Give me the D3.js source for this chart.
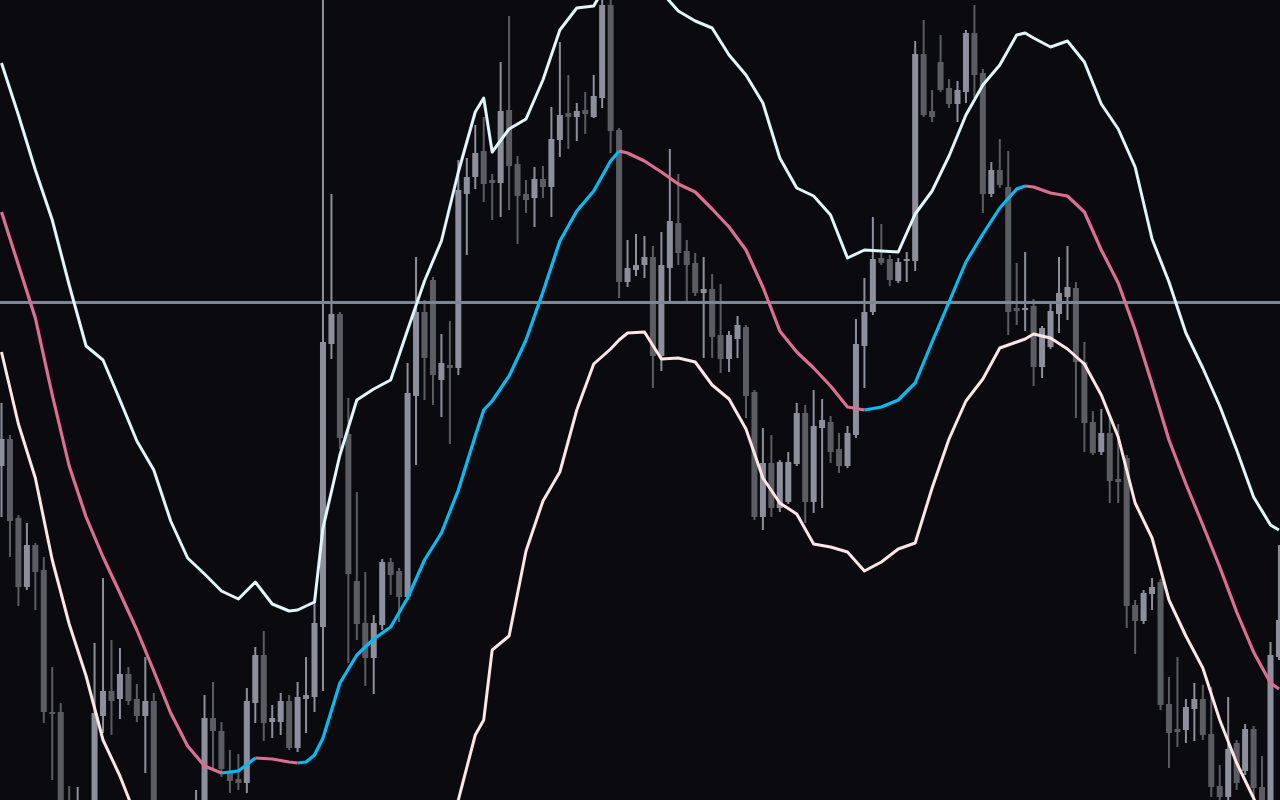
<!DOCTYPE html>
<html><head><meta charset="utf-8">
<script src="https://cdn.jsdelivr.net/npm/d3@7"></script>
<style>html,body{margin:0;padding:0;background:#0a0a0f;overflow:hidden}svg{display:block}</style>
</head><body><svg id="chart" width="1280" height="800"></svg>
<script>
// ---- candle data (price units) ----
const open=[334,361,282,213,255,230,88,88,-5,-25,-15,-10,84,109,101,126,101,84,99,-15,-35,-45,-30,-15,-5,82,69,27,21,17,97,145,78,78,99,52,101,103,173,456,486,366,219,177,142,175,238,229,203,404,488,520,420,435,432,606,623,649,620,617,690,636,606,602,621,613,660,687,683,690,683,702,795,670,518,530,535,543,444,532,577,549,537,507,511,465,441,461,473,408,283,337,292,298,336,387,298,372,378,351,334,365,454,488,542,541,519,540,539,746,689,738,712,696,708,767,727,606,630,613,492,490,494,433,453,486,503,512,438,378,348,367,321,342,195,179,206,218,96,71,70,91,101,66,14,3,57,29,71,13,-5,143];
const high=[397,365,285,277,257,243,133,97,14,13,-5,157,222,160,152,133,116,143,107,-5,-20,-15,-5,10,105,118,78,50,46,112,153,169,95,107,105,118,143,197,810,606,488,402,308,228,185,241,242,232,437,543,500,523,466,479,640,642,675,683,626,738,784,644,620,633,634,693,758,725,697,708,725,810,810,672,560,566,564,554,568,651,626,560,547,543,526,516,469,484,475,410,372,365,340,348,397,395,410,401,384,367,374,481,522,583,576,545,542,548,759,780,710,765,721,719,770,795,731,638,661,649,537,548,501,474,496,543,554,518,458,389,391,382,376,345,200,210,222,221,123,143,101,117,115,113,35,103,60,76,74,44,158,255];
const low=[283,243,194,210,190,77,20,-30,-45,-40,-50,-20,67,65,81,95,78,27,-30,-60,-70,-60,-45,-30,-15,30,23,7,10,7,77,59,62,65,50,48,67,88,109,441,351,137,160,114,106,170,205,178,200,335,400,395,383,356,425,545,611,598,580,583,590,556,587,573,602,583,643,651,659,666,682,692,647,502,513,524,522,412,429,499,535,499,504,442,442,427,428,442,382,280,270,283,288,296,334,277,287,292,337,327,332,362,412,485,535,514,517,518,529,683,678,708,692,678,697,702,587,603,612,465,475,469,414,422,451,467,480,382,348,345,345,297,297,172,146,176,190,90,32,53,57,59,60,3,-5,0,10,25,-5,-15,-15,140];
const close=[361,279,213,255,228,88,86,-15,-30,0,-40,87,109,99,126,99,84,99,-15,-40,-50,-30,-15,0,82,69,31,19,17,99,145,77,82,99,52,103,105,177,458,486,362,226,176,142,177,238,225,203,407,488,442,425,437,432,610,623,647,616,617,689,634,604,600,621,613,661,685,683,689,686,704,795,669,518,532,535,543,444,535,579,547,535,507,511,463,441,465,475,404,283,337,292,338,338,387,298,374,380,348,334,367,456,488,541,537,520,538,541,746,685,683,710,696,710,767,725,606,630,615,488,489,492,433,472,489,507,513,438,377,347,367,319,318,194,179,207,213,95,67,68,93,101,65,13,3,51,17,71,12,0,145,180];

// ---- band data (sampled at bar indices) ----
const bandIdx=[0,2,4,6,8,10,12,14,16,18,20,22,24,26,28,30,32,34,35,36,37,38,40,42,44,46,48,50,52,54,56,57,58,60,62,64,66,68,70,72,73,74,76,78,80,82,84,86,88,90,92,94,96,98,100,102,104,106,108,110,112,114,116,118,120,121,122,124,126,128,130,132,134,136,138,140,142,144,146,148,150,151];
const upperBand=[737,685,630,580,515,454,440,400,359,330,279,242,226,209,201,218,196,189,190,194,198,272,345,400,411,420,470,519,559,628,688,702,648,671,681,720,770,792,794,823,830,829,808,808,789,779,772,745,725,697,642,612,604,585,542,550,549,548,586,609,644,685,715,735,765,767,762,753,759,738,696,671,633,561,518,467,432,394,350,303,275,270];
const middleBand=[588,535,482,405,334,283,243,207,170,129,87,54,34,27,29,42,41,38,37,38,45,62,117,145,161,173,202,240,267,310,364,390,399,424,460,508,559,589,609,639,649,647,639,628,616,608,591,573,550,513,469,448,432,414,393,390,393,400,417,458,498,538,566,592,611,614,613,607,604,588,550,517,470,416,360,316,275,233,188,148,117,111];
const lowerBand=[448,376,322,240,176,124,60,24,-19,-72,-105,-134,-158,-155,-141,-134,-114,-113,-116,-118,-108,-130,-111,-110,-89,-74,-66,-39,-25,0,65,80,150,164,249,299,328,390,436,451,460,467,468,441,442,438,415,401,371,322,297,286,256,253,248,229,238,251,257,312,361,399,421,452,458,461,466,462,451,436,405,363,297,262,200,164,132,80,37,2,-40,-48];
const priceLine=497.5;

// ---- styles ----
const W=1280,H=800;
const C={bg:"#0a0a0f",up:"#8e8f9c",down:"#5c5d63",upper:"#e0f6fa",lower:"#ffe6e4",rise:"#00bcf5",fall:"#dc6e90",line:"#7c8695"};

const svg=d3.select("#chart");
svg.append("rect").attr("width",W).attr("height",H).attr("fill",C.bg);

const bars=d3.range(open.length);
const x=d3.scaleLinear().domain([0,bars.length-1]).range([1.5,1.5+(bars.length-1)*8.46]);
const y=d3.scaleLinear().domain([0,800]).range([H,0]);
const bodyW=6, wickW=2;

const g=svg.append("g");
g.selectAll("rect.wick").data(bars).join("rect").attr("class","wick")
  .attr("x",i=>x(i)-wickW/2).attr("width",wickW)
  .attr("y",i=>y(high[i])).attr("height",i=>Math.max(1,y(low[i])-y(high[i])))
  .attr("fill",i=>close[i]>=open[i]?C.up:C.down);
g.selectAll("rect.body").data(bars).join("rect").attr("class","body")
  .attr("x",i=>x(i)-bodyW/2).attr("width",bodyW)
  .attr("y",i=>y(Math.max(open[i],close[i])))
  .attr("height",i=>Math.max(2,Math.abs(y(open[i])-y(close[i]))))
  .attr("fill",i=>close[i]>=open[i]?C.up:C.down);

// horizontal price line
svg.append("line").attr("x1",0).attr("x2",W).attr("y1",y(priceLine)).attr("y2",y(priceLine))
  .attr("stroke",C.line).attr("stroke-width",3);

const line=d3.line().x(d=>x(d[0])).y(d=>y(d[1]));
const pts=arr=>bandIdx.map((k,j)=>[k,arr[j]]);
svg.append("path").attr("d",line(pts(upperBand))).attr("fill","none").attr("stroke",C.upper).attr("stroke-width",3).attr("stroke-linejoin","round");
svg.append("path").attr("d",line(pts(lowerBand))).attr("fill","none").attr("stroke",C.lower).attr("stroke-width",3).attr("stroke-linejoin","round");

// middle band coloured by direction
const mp=pts(middleBand);
const runs=[];
for(let j=0;j<mp.length-1;j++){
  const col=mp[j+1][1]>mp[j][1]?C.rise:C.fall;
  if(runs.length&&runs[runs.length-1].col===col){runs[runs.length-1].p.push(mp[j+1]);}
  else runs.push({col,p:[mp[j],mp[j+1]]});
}
svg.selectAll("path.mid").data(runs).join("path").attr("class","mid")
  .attr("d",r=>line(r.p)).attr("fill","none").attr("stroke",r=>r.col)
  .attr("stroke-width",3.2).attr("stroke-linejoin","round");
</script></body></html>
